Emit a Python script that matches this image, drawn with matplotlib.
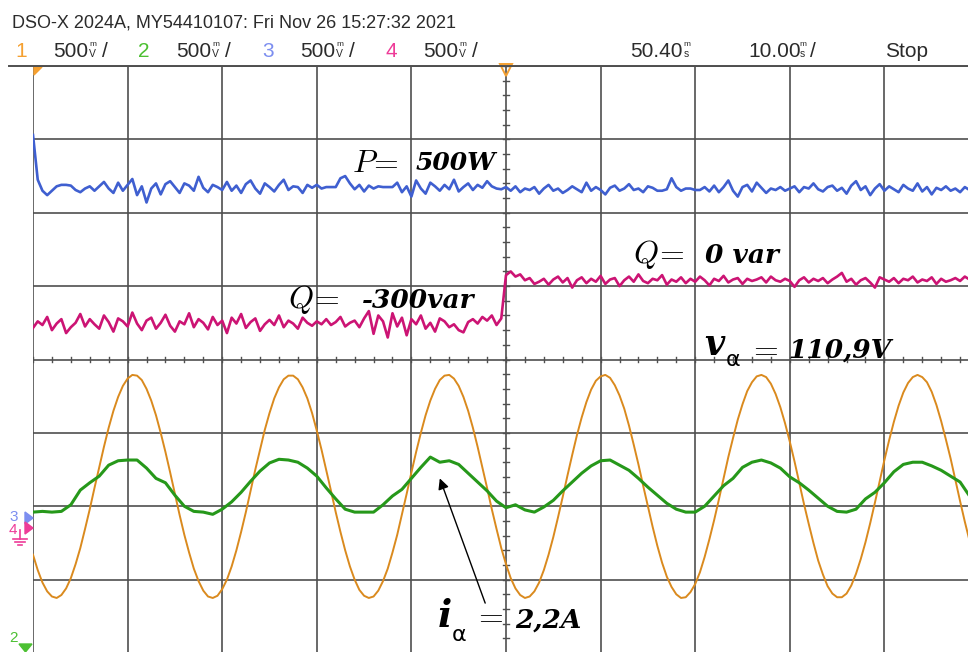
import numpy as np
import matplotlib
matplotlib.use("Agg")
import matplotlib.pyplot as plt
from matplotlib.lines import Line2D
from matplotlib.patches import Polygon

plt.rcParams['font.family'] = ['Liberation Sans', 'DejaVu Sans']

# time base: 10 ms/div, 10 divisions
t_fine = np.arange(200) * 0.5      # ms, for v, P and Q traces
t_coarse = np.arange(100) * 1.0    # ms, for the i trace

# channel 1: v_alpha (div)
v_alpha = [
    1.34, 1.13, 0.96, 0.84, 0.77, 0.75, 0.79, 0.88, 1.02, 1.21,
    1.43, 1.69, 1.96, 2.25, 2.53, 2.81, 3.07, 3.30, 3.49, 3.64,
    3.74, 3.79, 3.78, 3.72, 3.60, 3.44, 3.24, 3.00, 2.74, 2.46,
    2.17, 1.88, 1.61, 1.37, 1.15, 0.98, 0.85, 0.77, 0.75, 0.78,
    0.87, 1.00, 1.18, 1.40, 1.65, 1.92, 2.21, 2.50, 2.77, 3.04,
    3.27, 3.47, 3.62, 3.73, 3.78, 3.78, 3.73, 3.62, 3.47, 3.27,
    3.03, 2.77, 2.49, 2.21, 1.92, 1.65, 1.40, 1.18, 1.00, 0.86,
    0.78, 0.75, 0.77, 0.85, 0.98, 1.15, 1.37, 1.61, 1.89, 2.17,
    2.46, 2.74, 3.00, 3.24, 3.44, 3.60, 3.72, 3.78, 3.79, 3.74,
    3.64, 3.49, 3.30, 3.07, 2.81, 2.53, 2.25, 1.96, 1.69, 1.43,
    1.21, 1.02, 0.88, 0.79, 0.75, 0.77, 0.84, 0.96, 1.13, 1.34,
    1.58, 1.85, 2.13, 2.42, 2.70, 2.97, 3.21, 3.42, 3.59, 3.71,
    3.77, 3.79, 3.75, 3.65, 3.51, 3.33, 3.10, 2.84, 2.57, 2.28,
    2.00, 1.72, 1.46, 1.23, 1.04, 0.90, 0.80, 0.75, 0.76, 0.83,
    0.94, 1.10, 1.31, 1.55, 1.81, 2.09, 2.38, 2.67, 2.93, 3.18,
    3.39, 3.57, 3.69, 3.77, 3.79, 3.76, 3.67, 3.53, 3.35, 3.13,
    2.88, 2.61, 2.32, 2.03, 1.76, 1.50, 1.26, 1.07, 0.91, 0.81,
    0.76, 0.76, 0.81, 0.92, 1.08, 1.28, 1.51, 1.77, 2.05, 2.34,
    2.63, 2.90, 3.15, 3.37, 3.55, 3.68, 3.76, 3.79, 3.76, 3.69,
    3.56, 3.38, 3.16, 2.91, 2.65, 2.36, 2.07, 1.79, 1.53, 1.29,
]

# channel 2: i_alpha (div)
i_alpha = [
    1.92, 1.93, 1.92, 1.93, 2.02, 2.22, 2.32, 2.41, 2.56, 2.62,
    2.63, 2.63, 2.52, 2.38, 2.32, 2.15, 2.00, 1.93, 1.92, 1.89,
    1.96, 2.06, 2.19, 2.34, 2.48, 2.59, 2.64, 2.63, 2.60, 2.52,
    2.41, 2.25, 2.10, 1.96, 1.92, 1.92, 1.92, 2.02, 2.14, 2.23,
    2.38, 2.53, 2.67, 2.60, 2.62, 2.57, 2.45, 2.33, 2.21, 2.07,
    1.98, 2.02, 1.95, 1.92, 1.99, 2.08, 2.21, 2.33, 2.45, 2.55,
    2.62, 2.63, 2.56, 2.49, 2.38, 2.26, 2.15, 2.04, 1.96, 1.92,
    1.92, 2.00, 2.14, 2.28, 2.38, 2.53, 2.60, 2.63, 2.59, 2.52,
    2.40, 2.32, 2.22, 2.11, 2.00, 1.93, 1.92, 1.96, 2.10, 2.19,
    2.32, 2.47, 2.57, 2.60, 2.60, 2.55, 2.49, 2.41, 2.33, 2.14,
]

# channel 3: active power P (div)
p_trace = [
    7.06, 6.45, 6.30, 6.24, 6.30, 6.36, 6.38, 6.38, 6.37, 6.31,
    6.28, 6.33, 6.36, 6.30, 6.36, 6.42, 6.33, 6.27, 6.41, 6.30,
    6.38, 6.46, 6.24, 6.36, 6.14, 6.33, 6.40, 6.25, 6.39, 6.43,
    6.35, 6.27, 6.40, 6.37, 6.30, 6.49, 6.34, 6.28, 6.38, 6.35,
    6.31, 6.42, 6.30, 6.37, 6.27, 6.39, 6.44, 6.33, 6.26, 6.40,
    6.35, 6.29, 6.38, 6.45, 6.31, 6.36, 6.35, 6.27, 6.38, 6.34,
    6.38, 6.33, 6.35, 6.35, 6.35, 6.47, 6.50, 6.40, 6.32, 6.38,
    6.29, 6.37, 6.33, 6.36, 6.35, 6.35, 6.35, 6.41, 6.28, 6.36,
    6.22, 6.44, 6.33, 6.26, 6.41, 6.36, 6.30, 6.38, 6.32, 6.45,
    6.29, 6.35, 6.40, 6.31, 6.38, 6.34, 6.43, 6.36, 6.33, 6.32,
    6.35, 6.30, 6.36, 6.28, 6.33, 6.31, 6.35, 6.26, 6.33, 6.38,
    6.30, 6.33, 6.27, 6.31, 6.36, 6.32, 6.28, 6.41, 6.30, 6.35,
    6.31, 6.25, 6.34, 6.37, 6.30, 6.33, 6.39, 6.31, 6.33, 6.28,
    6.36, 6.34, 6.30, 6.30, 6.32, 6.47, 6.35, 6.30, 6.33, 6.33,
    6.31, 6.31, 6.35, 6.29, 6.37, 6.28, 6.35, 6.44, 6.30, 6.22,
    6.35, 6.38, 6.29, 6.41, 6.34, 6.27, 6.33, 6.31, 6.35, 6.30,
    6.33, 6.36, 6.28, 6.35, 6.33, 6.40, 6.32, 6.29, 6.35, 6.37,
    6.30, 6.34, 6.26, 6.37, 6.43, 6.31, 6.36, 6.24, 6.33, 6.39,
    6.30, 6.36, 6.32, 6.28, 6.38, 6.33, 6.30, 6.40, 6.29, 6.35,
    6.25, 6.34, 6.31, 6.36, 6.30, 6.33, 6.28, 6.35, 6.31, 6.30,
]

# channel 4: reactive power Q (div), step at the trigger point
q_trace = [
    4.43, 4.52, 4.47, 4.58, 4.40, 4.49, 4.55, 4.36, 4.44, 4.50,
    4.62, 4.45, 4.55, 4.48, 4.42, 4.60, 4.51, 4.38, 4.56, 4.52,
    4.45, 4.64, 4.49, 4.40, 4.53, 4.57, 4.42, 4.50, 4.61, 4.46,
    4.38, 4.52, 4.48, 4.63, 4.44, 4.55, 4.50, 4.41, 4.58, 4.47,
    4.53, 4.36, 4.57, 4.49, 4.62, 4.43, 4.51, 4.56, 4.39, 4.48,
    4.54, 4.47, 4.60, 4.44, 4.53, 4.49, 4.42, 4.57, 4.50, 4.46,
    4.52, 4.48, 4.55, 4.47, 4.51, 4.58, 4.45, 4.50, 4.53, 4.44,
    4.56, 4.66, 4.35, 4.60, 4.52, 4.30, 4.63, 4.45, 4.57, 4.33,
    4.55, 4.48, 4.60, 4.42, 4.50, 4.38, 4.56, 4.52, 4.44, 4.48,
    4.40, 4.37, 4.51, 4.55, 4.49, 4.58, 4.53, 4.60, 4.47, 4.56,
    5.15, 5.20, 5.13, 5.16, 5.08, 5.11, 5.03, 5.06, 5.10, 5.02,
    5.09, 5.13, 5.05, 5.11, 4.98, 5.08, 5.12, 5.04, 5.10, 5.06,
    5.14, 5.03, 5.09, 5.11, 5.00, 5.08, 5.13, 5.06, 5.16, 5.07,
    5.04, 5.10, 5.08, 5.15, 5.02, 5.09, 5.06, 5.12, 5.04, 5.10,
    5.06, 5.13, 5.08, 5.01, 5.10, 5.07, 5.14, 5.05, 5.09, 5.11,
    5.03, 5.10, 5.07, 5.09, 5.12, 5.05, 5.13, 5.08, 5.06, 5.10,
    5.07, 4.99, 5.08, 5.12, 5.05, 5.10, 5.07, 5.11, 5.04, 5.09,
    5.13, 5.18, 5.06, 5.10, 5.02, 5.08, 5.11, 5.05, 4.98, 5.12,
    5.09, 5.06, 5.11, 5.04, 5.10, 5.08, 5.13, 5.05, 5.09, 5.07,
    5.12, 5.03, 5.10, 5.06, 5.08, 5.11, 5.07, 5.13, 5.09, 5.16,
]

ch_colors = ['#F5A030', '#4CC032', '#7C8EF0', '#EE3C98']
trace_colors = {'v': '#DA8A1E', 'i': '#26981A', 'p': '#3F5FD0', 'q': '#CC1474'}
grid_color = '#4f4f4f'
text_color = '#2b2b2b'

W, H = 968, 652
fig = plt.figure(figsize=(W / 100, H / 100), dpi=100)
fig.patch.set_facecolor('white')


def fx(x):
    return x / W


def fy(y):
    return 1 - y / H


# screen area: 10 x 8 divisions
ax = fig.add_axes([fx(33), fy(653), 946 / W, 587 / H])
ax.set_xlim(0, 100)
ax.set_ylim(0, 8)
ax.axis('off')

for xv in range(0, 101, 10):
    ax.axvline(xv, color=grid_color, lw=1.2, zorder=1)
for yv in range(0, 9):
    ax.axhline(yv, color=grid_color, lw=1.2, zorder=1)

# minor ticks on the centre lines
for yv in np.arange(0, 8.01, 0.2):
    ax.plot([49.68, 50.32], [yv, yv], color=grid_color, lw=1.0, zorder=1)
for xv in np.arange(0, 100.1, 2):
    ax.plot([xv, xv], [3.96, 4.04], color=grid_color, lw=1.0, zorder=1)

ax.plot(t_fine, v_alpha, color=trace_colors['v'], lw=1.4, zorder=3)
ax.plot(t_coarse, i_alpha, color=trace_colors['i'], lw=2.2, zorder=4)
ax.plot(t_fine, p_trace, color=trace_colors['p'], lw=1.9, zorder=3)
ax.plot(t_fine, q_trace, color=trace_colors['q'], lw=1.9, zorder=3)

# annotations
val_font = dict(family='DejaVu Serif', style='italic', weight='bold',
                color='black', va='baseline', zorder=6)
sym_font = dict(math_fontfamily='cm', color='black', va='baseline', zorder=6)

ax.text(33.7, 6.55, r'$P\!=$', fontsize=23, **sym_font)
ax.text(40.4, 6.58, '500W', fontsize=18, **val_font)
ax.text(27.0, 4.70, r'$Q\!=$', fontsize=23, **sym_font)
ax.text(34.8, 4.70, '-300var', fontsize=19, **val_font)
ax.text(63.4, 5.31, r'$Q\!=$', fontsize=23, **sym_font)
ax.text(71.0, 5.31, '0 var', fontsize=19, **val_font)

ax.text(71.0, 4.06, 'v', fontsize=25, **val_font)
ax.text(73.2, 3.91, 'α', fontsize=16, family='DejaVu Sans', color='black',
        va='baseline', zorder=6)
ax.text(75.6, 4.03, r'$=$', fontsize=23, **sym_font)
ax.text(79.8, 4.03, '110,9V', fontsize=19, **val_font)

ax.text(42.8, 0.35, 'i', fontsize=27, **val_font)
ax.text(44.3, 0.16, 'α', fontsize=16, family='DejaVu Sans', color='black',
        va='baseline', zorder=6)
ax.text(46.5, 0.40, r'$=$', fontsize=23, **sym_font)
ax.text(51.0, 0.35, '2,2A', fontsize=19, **val_font)

ax.annotate('', xy=(43.0, 2.38), xytext=(47.8, 0.68),
            arrowprops=dict(arrowstyle='-|>', color='black', lw=1.0,
                            mutation_scale=16, shrinkA=0, shrinkB=0),
            zorder=6)

# trigger / time reference marker
ax.plot([50], [7.95], marker='v', ms=8, mfc='none', mec=ch_colors[0],
        mew=1.4, clip_on=False, zorder=5)

# top border of the display
fig.add_artist(Line2D([fx(9), 1], [fy(66), fy(66)], color=grid_color, lw=1.4))
fig.add_artist(Polygon([(fx(34), fy(67)), (fx(42), fy(67)), (fx(34), fy(75))],
                       closed=True, color=ch_colors[0]))

# header
fig.text(fx(12), fy(28), 'DSO-X 2024A, MY54410107: Fri Nov 26 15:27:32 2021',
         fontsize=13, color=text_color, va='baseline')

row_y = fy(57)
ch_x = [15, 138, 262, 386]
scale_x = [53, 176, 300, 423]
for k in range(4):
    fig.text(fx(ch_x[k]), row_y, str(k + 1), fontsize=15, color=ch_colors[k],
             va='baseline')
    fig.text(fx(scale_x[k]), row_y, '500', fontsize=15, color=text_color,
             va='baseline')
    fig.text(fx(scale_x[k] + 36), fy(46), 'm', fontsize=6, color=text_color,
             va='baseline')
    fig.text(fx(scale_x[k] + 36), row_y, 'V', fontsize=7.5, color=text_color,
             va='baseline')
    fig.text(fx(scale_x[k] + 49), row_y, '/', fontsize=15, color=text_color,
             va='baseline')

fig.text(fx(630), row_y, '50.40', fontsize=15, color=text_color, va='baseline')
fig.text(fx(683), fy(46), 'm', fontsize=6, color=text_color, va='baseline')
fig.text(fx(684), row_y, 's', fontsize=7.5, color=text_color, va='baseline')
fig.text(fx(748), row_y, '10.00', fontsize=15, color=text_color, va='baseline')
fig.text(fx(799), fy(46), 'm', fontsize=6, color=text_color, va='baseline')
fig.text(fx(800), row_y, 's', fontsize=7.5, color=text_color, va='baseline')
fig.text(fx(810), row_y, '/', fontsize=15, color=text_color, va='baseline')
fig.text(fx(885), row_y, 'Stop', fontsize=15, color=text_color, va='baseline')

# channel offset markers on the left edge
fig.text(fx(9), fy(521), '3', fontsize=11, color=ch_colors[2], va='baseline')
fig.add_artist(Polygon([(fx(25), fy(512)), (fx(33), fy(518)), (fx(25), fy(524))],
                       closed=True, color=ch_colors[2]))
fig.text(fx(9), fy(534), '4', fontsize=11, color=ch_colors[3], va='baseline')
fig.add_artist(Polygon([(fx(25), fy(522)), (fx(33), fy(528)), (fx(25), fy(534))],
                       closed=True, color=ch_colors[3]))
fig.add_artist(Line2D([fx(20), fx(20)], [fy(530), fy(539)], color=ch_colors[3], lw=1.2))
for y0, half in [(539, 7), (542, 4.5), (545, 2)]:
    fig.add_artist(Line2D([fx(20 - half), fx(20 + half)], [fy(y0), fy(y0)],
                          color=ch_colors[3], lw=1.2))
fig.text(fx(9), fy(642), '2', fontsize=11, color=ch_colors[1], va='baseline')
fig.add_artist(Polygon([(fx(19), fy(644)), (fx(32), fy(644)), (fx(25.5), fy(652))],
                       closed=True, color=ch_colors[1]))

fig.savefig('out.png', dpi=100)
